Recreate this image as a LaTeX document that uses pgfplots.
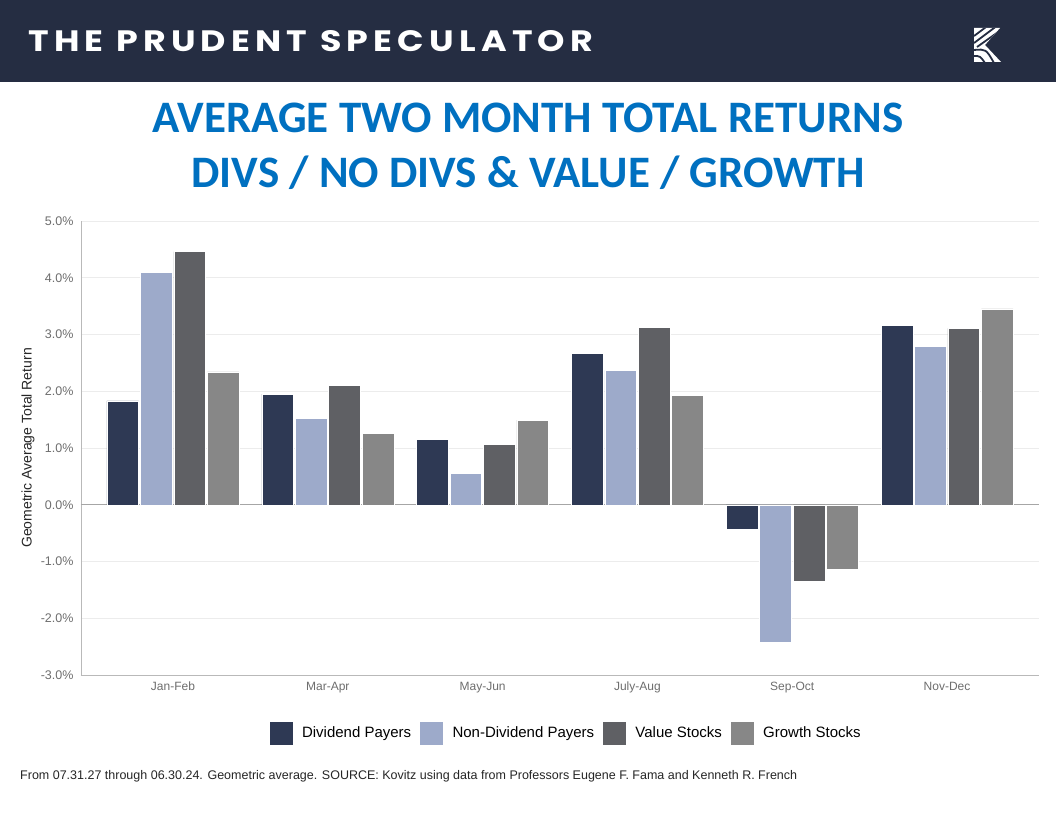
\documentclass[border=0pt]{standalone}
\usepackage{graphicx}
\usepackage{fontspec}
\setmainfont{Liberation Sans}
\newfontfamily\titlefont{Carlito}
\newfontfamily\hdrfont{Poppins}[LetterSpace=15]
\usepackage{pgfplots}
\pgfplotsset{compat=1.18}
\definecolor{hdr}{HTML}{252D42}
\definecolor{ttl}{HTML}{0070C0}
\definecolor{cdiv}{HTML}{2E3954}
\definecolor{cnon}{HTML}{9DAACA}
\definecolor{cval}{HTML}{5F6064}
\definecolor{cgro}{HTML}{878787}
\definecolor{tickc}{HTML}{6E6E6E}
\begin{document}
\begin{tikzpicture}[x=1pt,y=1pt]
\useasboundingbox (0,0) rectangle (1056,816);
\fill[white] (0,0) rectangle (1056,816);
\fill[hdr] (0,734) rectangle (1056,816);
\node[anchor=west, inner sep=0pt, text=white] at (28,816-41.5) {\resizebox{565pt}{21pt}{\hdrfont\bfseries THE PRUDENT SPECULATOR}};
% logo
\begin{scope}
\clip (974,816-28) -- (1000,816-28) -- (985,816-45) -- (1001,816-62) -- (974,816-62) -- cycle;
\fill[white] (970,816-70) rectangle (1005,816-20);
\begin{scope}[draw=hdr, line width=1.8pt]
\draw (974,816-36) -- (990,816-24);
\draw (974,816-43) -- (998,816-25);
\draw (977,816-47) -- (1001,816-30);
\draw (974,816-50) .. controls (986,816-49) .. (994,816-63);
\draw (974,816-56) .. controls (980,816-56) .. (985,816-63);
\end{scope}
\end{scope}
\node[text=ttl, font=\titlefont\bfseries\fontsize{45}{50}\selectfont] at (528,816-118) {AVERAGE TWO MONTH TOTAL RETURNS};
\node[text=ttl, font=\titlefont\bfseries\fontsize{45}{50}\selectfont] at (528,816-173) {DIVS / NO DIVS \& VALUE / GROWTH};
\begin{axis}[
  at={(81pt,141pt)}, anchor=south west, scale only axis,
  width=958pt, height=454pt,
  xmin=-0.594, xmax=5.594, ymin=-3, ymax=5,
  axis x line*=bottom, axis y line*=left,
  axis line style={draw=gray!55, -},
  major tick length=0pt,
  xtick={0,1,2,3,4,5},
  xticklabels={Jan-Feb,Mar-Apr,May-Jun,July-Aug,Sep-Oct,Nov-Dec},
  x tick label style={font=\fontsize{12}{14}\selectfont, text=tickc, yshift=-3pt, text height=9pt, text depth=3pt},
  ytick={-3,-2,-1,0,1,2,3,4,5},
  ymajorgrids, grid style={draw=gray!15, line width=0.8pt},
  /pgf/number format/assume math mode=true,
  yticklabel={\pgfmathprintnumber[fixed,fixed zerofill,precision=1]{\tick}\%},
  y tick label style={font=\fontsize{12.5}{14}\selectfont, text=tickc, xshift=-4pt},
  extra y ticks={0}, extra y tick labels={},
  extra y tick style={grid style={draw=gray!70, line width=1pt}},
  ylabel={Geometric Average Total Return},
  ylabel style={font=\fontsize{14}{16}\selectfont, text=black!85, at={(axis description cs:-0.0553,0.5)}, anchor=center},
  legend style={at={(axis description cs:0.506,-0.1278)}, anchor=center, legend columns=4, draw=none, fill=none,
     font=\fontsize{15}{17}\selectfont, /tikz/every even column/.append style={column sep=6pt}},
  legend image code/.code={\path[draw=none,fill=none] (0pt,-12pt) rectangle (31pt,12pt); \fill[#1] (0pt,-12pt) rectangle (24pt,12pt);},
]
\addplot[ybar, bar width=0.205, bar shift=-0.324, fill=cdiv, draw=white, line width=0.5pt] coordinates {(0,1.83) (1,1.95) (2,1.15) (3,2.67) (4,-0.44) (5,3.16)};
\addlegendentry{Dividend Payers}
\addplot[ybar, bar width=0.205, bar shift=-0.108, fill=cnon, draw=white, line width=0.5pt] coordinates {(0,4.09) (1,1.52) (2,0.55) (3,2.37) (4,-2.43) (5,2.79)};
\addlegendentry{Non-Dividend Payers}
\addplot[ybar, bar width=0.205, bar shift=0.108, fill=cval, draw=white, line width=0.5pt] coordinates {(0,4.46) (1,2.11) (2,1.06) (3,3.13) (4,-1.35) (5,3.11)};
\addlegendentry{Value Stocks}
\addplot[ybar, bar width=0.205, bar shift=0.324, fill=cgro, draw=white, line width=0.5pt] coordinates {(0,2.34) (1,1.26) (2,1.49) (3,1.93) (4,-1.14) (5,3.45)};
\addlegendentry{Growth Stocks}
\end{axis}
\node[anchor=west, inner sep=0pt, font=\fontsize{12.5}{14}\selectfont, text=black!85] at (20,816-776) {From 07.31.27 through 06.30.24. Geometric average. SOURCE: Kovitz using data from Professors Eugene F. Fama and Kenneth R. French};
\end{tikzpicture}
\end{document}
